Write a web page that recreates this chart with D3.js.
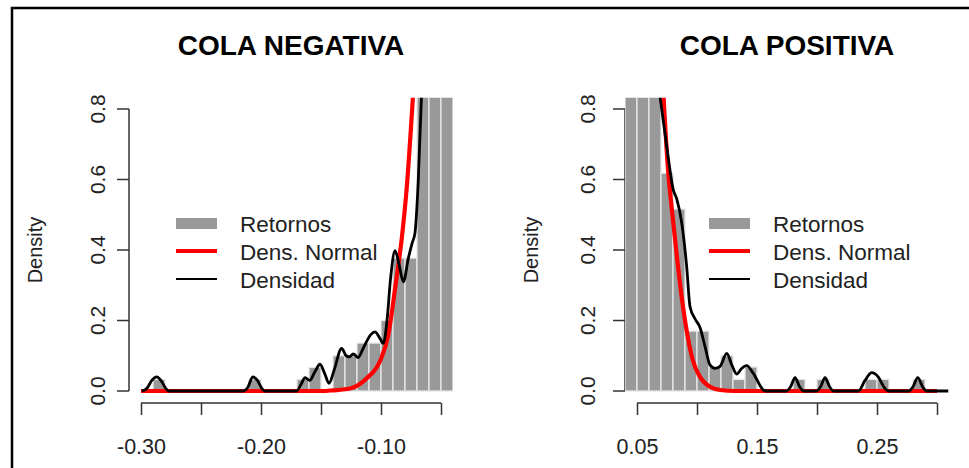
<!DOCTYPE html>
<html><head><meta charset="utf-8">
<script src="https://cdn.jsdelivr.net/npm/d3@7"></script>
<style>body{margin:0;background:#fff}svg{display:block}text{font-family:"Liberation Sans",Arial,sans-serif;fill:#222}</style>
</head><body>
<svg id="c" width="969" height="468"></svg>
<script>
// ---------- DATA ----------
const titles = ["COLA NEGATIVA", "COLA POSITIVA"];
const yLabel = "Density";
const legendLabels = ["Retornos", "Dens. Normal", "Densidad"];
const yTicks = [0, 0.2, 0.4, 0.6, 0.8];
const yTickLabels = ["0.0", "0.2", "0.4", "0.6", "0.8"];

// Negative tail
const negXTicks = [-0.30, -0.25, -0.20, -0.15, -0.10, -0.05];
const negXTickLabels = ["-0.30", "", "-0.20", "", "-0.10", ""];
const negBinStart = [-0.29, -0.21, -0.17, -0.16, -0.14, -0.13, -0.12, -0.11, -0.10, -0.09, -0.08, -0.07, -0.06, -0.05];
const negBinDens  = [0.033, 0.033, 0.033, 0.067, 0.100, 0.100, 0.136, 0.136, 0.200, 0.377, 0.377, 0.900, 0.900, 0.900];
const negKdeX = [-0.2994,-0.2950,-0.2910,-0.2869,-0.2830,-0.2790,-0.2765,-0.2150,-0.2110,-0.2069,-0.2030,-0.1990,-0.1967,-0.1703,-0.1665,-0.1633,-0.1595,-0.1550,-0.1508,-0.1470,-0.1433,-0.1390,-0.1328,-0.1290,-0.1265,-0.1231,-0.1190,-0.1150,-0.1085,-0.1050,-0.1010,-0.0981,-0.0950,-0.0920,-0.0883,-0.0850,-0.0814,-0.0770,-0.0740,-0.0717,-0.0689,-0.0661];
const negKdeY = [0.000,0.008,0.030,0.040,0.028,0.006,0.000,0.000,0.010,0.040,0.030,0.006,0.000,0.000,0.020,0.038,0.030,0.055,0.076,0.050,0.022,0.060,0.121,0.100,0.097,0.105,0.095,0.120,0.160,0.168,0.150,0.135,0.200,0.320,0.398,0.360,0.310,0.380,0.420,0.448,0.600,0.850];
const negNormX = [-0.3000,-0.1500,-0.1400,-0.1258,-0.1119,-0.1008,-0.0939,-0.0883,-0.0828,-0.0786,-0.0744,-0.0731];
const negNormY = [0.000,0.000,0.002,0.007,0.036,0.085,0.160,0.290,0.430,0.575,0.780,0.850];

// Positive tail
const posXTicks = [0.05, 0.10, 0.15, 0.20, 0.25, 0.30];
const posXTickLabels = ["0.05", "", "0.15", "", "0.25", ""];
const posBinStart = [0.04, 0.05, 0.06, 0.07, 0.08, 0.09, 0.10, 0.11, 0.12, 0.13, 0.14, 0.18, 0.20, 0.24, 0.25, 0.28];
const posBinDens  = [0.900, 0.900, 0.900, 0.618, 0.516, 0.170, 0.170, 0.068, 0.100, 0.033, 0.068, 0.033, 0.033, 0.033, 0.033, 0.033];
const posKdeX = [0.0686,0.0748,0.0803,0.0831,0.0873,0.0914,0.0942,0.0983,0.1025,0.1067,0.1108,0.1150,0.1192,0.1248,0.1289,0.1331,0.1372,0.1414,0.1469,0.1553,0.1580,0.1745,0.1780,0.1817,0.1855,0.1890,0.1995,0.2030,0.2067,0.2105,0.2140,0.2345,0.2400,0.2456,0.2510,0.2560,0.2594,0.2765,0.2800,0.2840,0.2880,0.2915,0.3094];
const posKdeY = [0.850,0.693,0.570,0.545,0.476,0.353,0.239,0.205,0.180,0.126,0.074,0.064,0.070,0.107,0.075,0.048,0.064,0.072,0.050,0.003,0.000,0.000,0.012,0.038,0.012,0.000,0.000,0.012,0.038,0.012,0.000,0.000,0.030,0.052,0.040,0.010,0.000,0.000,0.012,0.038,0.012,0.000,0.000];
const posNormX = [0.0719,0.0758,0.0792,0.0833,0.0875,0.0917,0.0967,0.1025,0.1108,0.1192,0.1317,0.3000];
const posNormY = [0.850,0.630,0.510,0.380,0.260,0.165,0.085,0.040,0.012,0.003,0.000,0.000];

const binWidth = 0.01;

// ---------- LAYOUT ----------
const svg = d3.select("#c");
const panels = [
  {title: titles[0], xDom: [-0.31, -0.04], left: 129, right: 453, ticks: negXTicks, tickLabels: negXTickLabels,
   bins: negBinStart, dens: negBinDens, kx: negKdeX, ky: negKdeY, nx: negNormX, ny: negNormY, legX: 176, labOff: 24},
  {title: titles[1], xDom: [0.04, 0.31], left: 625, right: 949, ticks: posXTicks, tickLabels: posXTickLabels,
   bins: posBinStart, dens: posBinDens, kx: posKdeX, ky: posKdeY, nx: posNormX, ny: posNormY, legX: 709, labOff: 30}
];
const yDom = [-0.032, 0.832];
const plotTop = 97.7, plotBottom = 402.3;

// frame
svg.append("path").attr("d", "M12,480 L12,8 L980,8").attr("fill", "none").attr("stroke", "#000").attr("stroke-width", 2.5);

panels.forEach((p, i) => {
  const x = d3.scaleLinear().domain(p.xDom).range([p.left, p.right]);
  const y = d3.scaleLinear().domain(yDom).range([plotBottom, plotTop]);
  const g = svg.append("g");
  const cid = "clip" + i;
  svg.append("clipPath").attr("id", cid).append("rect")
    .attr("x", p.left).attr("y", plotTop).attr("width", p.right - p.left).attr("height", plotBottom - plotTop);

  // title
  g.append("text").attr("x", (p.left + p.right) / 2).attr("y", 55).attr("text-anchor", "middle")
    .style("font-weight", "bold").style("font-size", "28px").style("fill", "#000").text(p.title);

  // y axis
  const axC = "#333";
  g.append("line").attr("x1", p.left).attr("x2", p.left).attr("y1", y(0)).attr("y2", y(0.8))
    .attr("stroke", axC).attr("stroke-width", 1.5);
  yTicks.forEach((t, k) => {
    g.append("line").attr("x1", p.left - 12).attr("x2", p.left).attr("y1", y(t)).attr("y2", y(t))
      .attr("stroke", axC).attr("stroke-width", 1.5);
    g.append("text").attr("transform", `translate(${p.left - p.labOff},${y(t)}) rotate(-90)`)
      .attr("text-anchor", "middle").style("font-size", "21px").text(yTickLabels[k]);
  });
  g.append("text").attr("transform", `translate(${p.left - 87},${y(0.4)}) rotate(-90)`)
    .attr("text-anchor", "middle").style("font-size", "20px").text(yLabel);

  // x axis
  const axisY = 403;
  const xa = g.append("g").attr("transform", `translate(0,${axisY})`)
    .call(d3.axisBottom(x).tickValues(p.ticks).tickSize(12).tickSizeOuter(0)
      .tickFormat((d, k) => p.tickLabels[k]));
  xa.select(".domain").remove();
  xa.selectAll(".tick line").attr("stroke", axC).attr("stroke-width", 1.5);
  xa.selectAll(".tick text").attr("y", 0).attr("dy", "51px").style("font-size", "21.5px")
    .style("font-family", "'Liberation Sans',Arial,sans-serif").attr("fill", "#222");
  g.append("line").attr("x1", x(p.ticks[0])).attr("x2", x(p.ticks[p.ticks.length - 1]))
    .attr("y1", axisY).attr("y2", axisY).attr("stroke", axC).attr("stroke-width", 1.5);

  // bars
  const pg = g.append("g").attr("clip-path", `url(#${cid})`);
  pg.selectAll("rect.bar").data(p.bins.map((b, k) => ({b, d: p.dens[k]}))).enter().append("rect")
    .attr("x", d => x(d.b)).attr("width", d => x(d.b + binWidth) - x(d.b))
    .attr("y", d => y(d.d)).attr("height", d => y(0) - y(d.d))
    .attr("fill", "#999999").attr("stroke", "#e8e8e8").attr("stroke-width", 1.3);

  // curves
  const line = d3.line().x(d => x(d[0])).y(d => y(d[1])).curve(d3.curveMonotoneX);
  pg.append("path").attr("d", line(p.nx.map((v, k) => [v, p.ny[k]])))
    .attr("fill", "none").attr("stroke", "#ff0000").attr("stroke-width", 4.2).attr("stroke-linejoin", "round");
  pg.append("path").attr("d", line(p.kx.map((v, k) => [v, p.ky[k]])))
    .attr("fill", "none").attr("stroke", "#000").attr("stroke-width", 2.8).attr("stroke-linejoin", "round");

  // legend
  const lx = p.legX, lw = 41, tx = lx + 64;
  const rows = [224, 252, 280];
  g.append("rect").attr("x", lx).attr("y", rows[0] - 6).attr("width", lw).attr("height", 11).attr("fill", "#999999");
  g.append("line").attr("x1", lx).attr("x2", lx + lw).attr("y1", rows[1] - 1).attr("y2", rows[1] - 1)
    .attr("stroke", "#ff0000").attr("stroke-width", 4);
  g.append("line").attr("x1", lx).attr("x2", lx + lw).attr("y1", rows[2] - 1).attr("y2", rows[2] - 1)
    .attr("stroke", "#000").attr("stroke-width", 2);
  legendLabels.forEach((t, k) => {
    g.append("text").attr("x", tx).attr("y", rows[k] + 8).style("font-size", "22.5px").text(t);
  });
});
</script>
</body></html>
